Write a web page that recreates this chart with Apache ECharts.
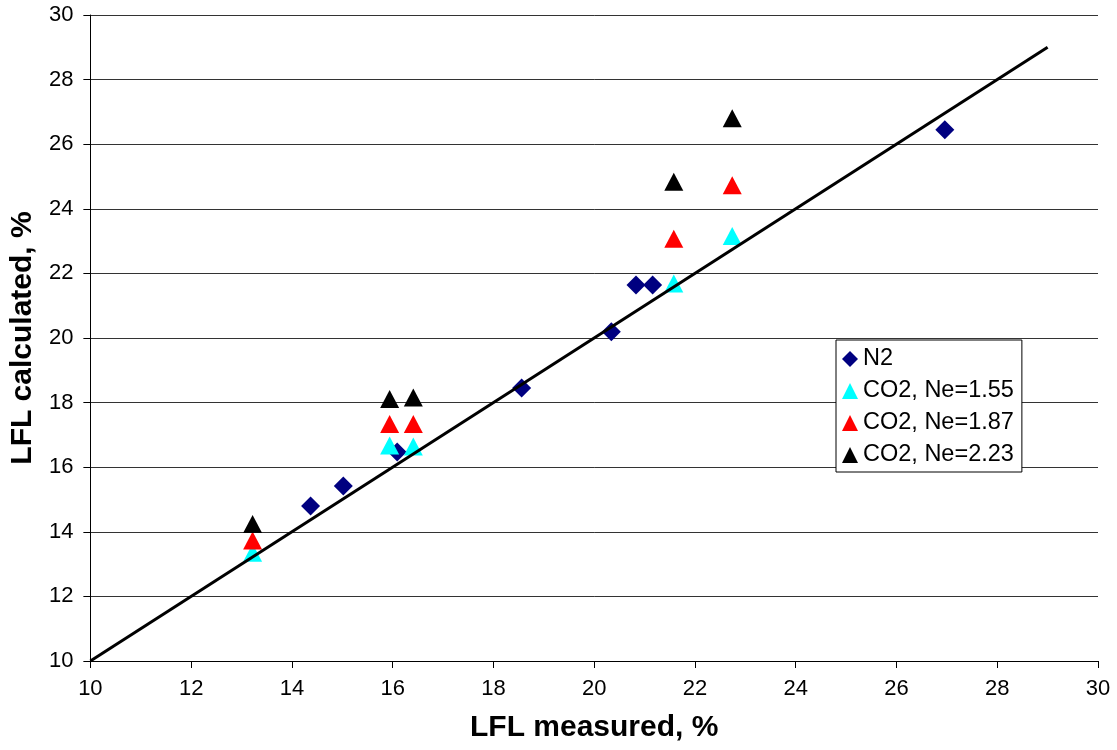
<!DOCTYPE html>
<html>
<head>
<meta charset="utf-8">
<script src="https://cdn.jsdelivr.net/npm/echarts@6/dist/echarts.min.js"></script>
<style>
  html, body { margin: 0; padding: 0; background: #fff; }
  #chart { width: 1117px; height: 750px; }
</style>
</head>
<body>
<div id="chart"></div>
<script>
// Lower flammability limit: measured vs calculated (%)
const seriesNames = ['N2', 'CO2, Ne=1.55', 'CO2, Ne=1.87', 'CO2, Ne=2.23'];

// N2 diluted mixtures
const n2Measured   = [14.37, 15.02, 16.09, 18.56, 20.34, 20.83, 21.16, 26.96];
const n2Calculated = [14.80, 15.42, 16.47, 18.45, 20.19, 21.64, 21.64, 26.45];

// CO2 diluted mixtures, same measured points for every Ne value
const co2Measured   = [13.22, 15.94, 16.41, 21.58, 22.74];
const co2Ne155      = [13.35, 16.67, 16.64, 21.69, 23.16];
const co2Ne187      = [13.73, 17.34, 17.34, 23.07, 24.73];
const co2Ne223      = [14.24, 18.11, 18.16, 24.84, 26.80];

// Reference line y = x
const refLine = [[10, 10], [29, 29]];

const axisTicks = { min: 10, max: 30, interval: 2 };

const pairs = (xs, ys) => xs.map((x, i) => [x, ys[i]]);

const FONT = 'Liberation Sans, Arial, sans-serif';

const chart = echarts.init(document.getElementById('chart'), null, { renderer: 'canvas' });

const scatter = (name, data, symbol, color, size) => ({
  name, type: 'scatter', data, symbol, symbolSize: size,
  itemStyle: { color, opacity: 1 },
  emphasis: { disabled: true }
});

chart.setOption({
  animation: false,
  backgroundColor: '#fff',
  grid: { left: 89, right: 19, top: 15, bottom: 89, containLabel: false },
  legend: {
    data: seriesNames,
    orient: 'vertical',
    left: 836, top: 340,
    padding: [7, 8, 5, 6],
    itemGap: 8,
    itemWidth: 16, itemHeight: 16,
    backgroundColor: '#fff',
    borderColor: '#000', borderWidth: 1,
    borderRadius: 0,
    textStyle: { fontFamily: FONT, fontSize: 23.5, color: '#000' },
    selectedMode: false
  },
  xAxis: {
    type: 'value', min: axisTicks.min, max: axisTicks.max, interval: axisTicks.interval,
    name: 'LFL measured, %', nameLocation: 'middle', nameGap: 52,
    nameTextStyle: { fontFamily: FONT, fontSize: 30, fontWeight: 'bold', color: '#000' },
    axisLine: { show: true, onZero: false, lineStyle: { color: '#000', width: 1 } },
    axisTick: { show: true, inside: false, length: 7, lineStyle: { color: '#000' } },
    axisLabel: { fontFamily: FONT, fontSize: 22, color: '#000', margin: 17 },
    splitLine: { show: false }
  },
  yAxis: {
    type: 'value', min: axisTicks.min, max: axisTicks.max, interval: axisTicks.interval,
    name: 'LFL calculated, %', nameLocation: 'middle', nameGap: 43,
    nameTextStyle: { fontFamily: FONT, fontSize: 30, fontWeight: 'bold', color: '#000' },
    axisLine: { show: true, onZero: false, lineStyle: { color: '#000', width: 1 } },
    axisTick: { show: true, inside: false, length: 7, lineStyle: { color: '#000' } },
    axisLabel: { fontFamily: FONT, fontSize: 22, color: '#000', margin: 17 },
    splitLine: { show: true, lineStyle: { color: '#333', width: 1 } }
  },
  series: [
    scatter(seriesNames[0], pairs(n2Measured, n2Calculated), 'diamond', '#000080', [19, 19]),
    scatter(seriesNames[1], pairs(co2Measured, co2Ne155), 'triangle', '#00ffff', [19, 18]),
    scatter(seriesNames[2], pairs(co2Measured, co2Ne187), 'triangle', '#ff0000', [19, 18]),
    scatter(seriesNames[3], pairs(co2Measured, co2Ne223), 'triangle', '#000000', [19, 18]),
    {
      type: 'line', data: refLine, symbol: 'none', silent: true,
      lineStyle: { color: '#000', width: 3 }, z: 5
    }
  ]
});
</script>
</body>
</html>
